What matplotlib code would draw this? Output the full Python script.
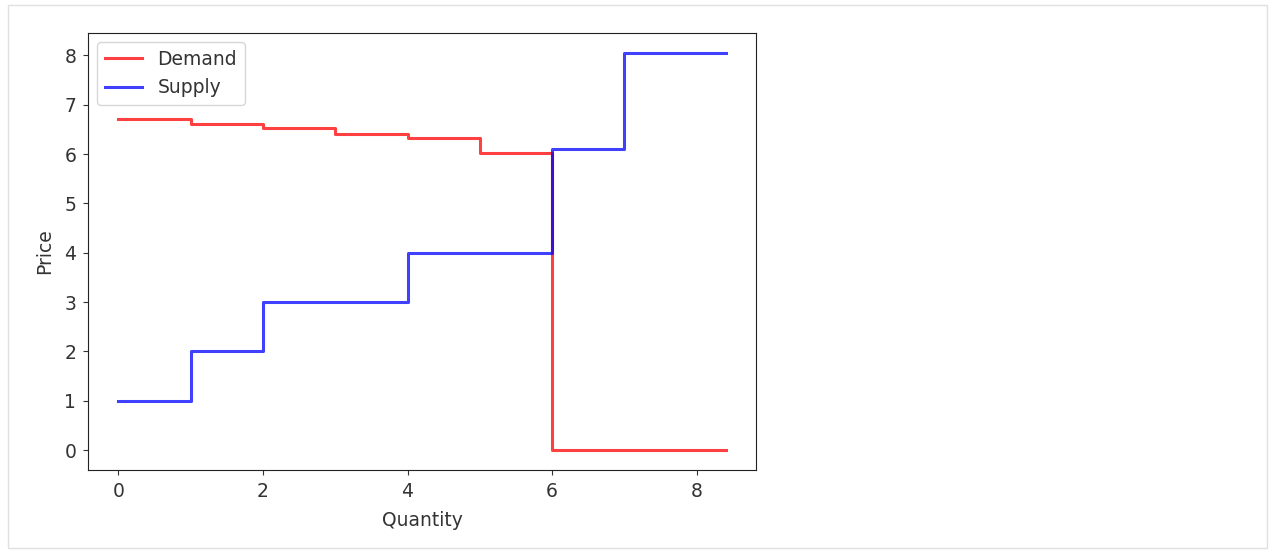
import matplotlib.pyplot as plt
from matplotlib.patches import Rectangle

# Step data (drawn as steps-post)
demand_q = [0, 1, 2, 3, 4, 5, 6, 8.4]
demand_p = [6.72, 6.6, 6.53, 6.41, 6.33, 6.03, 0, 0]
supply_q = [0, 1, 2, 4, 6, 7, 8.4]
supply_p = [1, 2, 3, 4, 6.1, 8.05, 8.05]

plt.rcParams['font.family'] = ['DejaVu Sans']
plt.rcParams['font.size'] = 13.5
plt.rcParams['text.color'] = '#333333'
plt.rcParams['axes.labelcolor'] = '#333333'
plt.rcParams['xtick.color'] = '#333333'
plt.rcParams['ytick.color'] = '#333333'

fig = plt.figure(figsize=(12.75, 5.5), dpi=100)
# notebook output frame
fig.patches.append(Rectangle((8 / 1275, 2 / 550), 1259 / 1275, 543 / 550,
                             transform=fig.transFigure, fill=False,
                             edgecolor="#e0e0e0", linewidth=1))

ax = fig.add_axes([88 / 1275, 1 - 470 / 550, 668 / 1275, 437 / 550])
ax.plot(demand_q, demand_p, drawstyle="steps-post", color="red", alpha=0.75,
        linewidth=2.2, label="Demand")
ax.plot(supply_q, supply_p, drawstyle="steps-post", color="blue", alpha=0.75,
        linewidth=2.2, label="Supply")

ax.set_xlabel("Quantity", labelpad=7)
ax.set_ylabel("Price", labelpad=7)
ax.set_xticks([0, 2, 4, 6, 8])
ax.set_yticks(range(0, 9))
ax.tick_params(pad=5)
for s in ax.spines.values():
    s.set_edgecolor('#222222')
ax.legend(loc="upper left")

fig.savefig("out.png", dpi=100)
